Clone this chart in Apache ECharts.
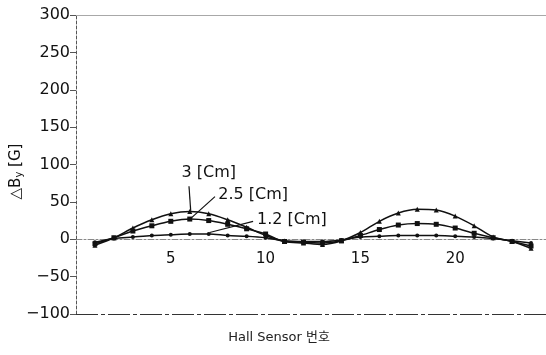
<!DOCTYPE html>
<html>
<head>
<meta charset="utf-8">
<script src="https://cdn.jsdelivr.net/npm/echarts@6/dist/echarts.min.js"></script>
<style>
    html, body { margin: 0; padding: 0; background: #fff; }
    #chart { width: 546px; height: 355px; }
</style>
</head>
<body>
<div id="chart"></div>
<script>
// Hall sensor index 1..24
const sensors = [1, 2, 3, 4, 5, 6, 7, 8, 9, 10, 11, 12, 13, 14, 15, 16, 17, 18, 19, 20, 21, 22, 23, 24]
// delta By [G] at each gap
const gap30 = [-8, 2, 15, 26, 34, 37, 34, 26, 16, 5, -3, -5, -7, -2, 9, 24, 35, 40, 39, 31, 18, 3, -3, -12]
const gap25 = [-6, 2, 11, 18, 24, 27, 25, 20, 14, 7, -3, -4, -5, -2, 5, 13, 19, 21, 20, 15, 8, 2, -3, -9]
const gap12 = [-4, 1, 3, 5, 6, 7, 7, 5, 4, 2, -2, -3, -3, -1, 3, 4, 5, 5, 5, 4, 3, 1, -2, -5]
const xTicks = [5, 10, 15, 20]
const yTicks = [-100, -50, 0, 50, 100, 150, 200, 250, 300]

const font = 'DejaVu Sans, Noto Sans CJK KR, sans-serif'
const chart = echarts.init(document.getElementById('chart'))

const gridTop = 15
const gridHeight = 299
const yMin = yTicks[0]
const yMax = yTicks[yTicks.length - 1]
// x axis sits on the zero line
const zeroOffset = -gridHeight * (0 - yMin) / (yMax - yMin)

function pairs (ys) {
    return sensors.map((x, i) => [x, ys[i]])
}

function line (name, ys, symbol, size) {
    return {
        name: name,
        type: 'line',
        data: pairs(ys),
        smooth: 0.3,
        symbol: symbol,
        symbolSize: size,
        itemStyle: { color: '#111' },
        lineStyle: { color: '#111', width: 1.5 },
        z: 3
    }
}

const series = [
    line('3 [Cm]', gap30, 'triangle', 5),
    line('2.5 [Cm]', gap25, 'rect', 5),
    line('1.2 [Cm]', gap12, 'circle', 4)
]
// frame lines at top (300) and bottom (-100)
series[0].markLine = {
    silent: true,
    symbol: 'none',
    label: { show: false },
    data: [
        { yAxis: yMax, lineStyle: { color: '#a8a8a8', type: 'solid', width: 1.2 } },
        { yAxis: yMin, lineStyle: { color: '#333', type: [22, 3, 4, 3], width: 1 } }
    ]
}

chart.setOption({
    animation: false,
    grid: { left: 76, top: gridTop, height: gridHeight, width: 474, outerBoundsMode: 'none', containLabel: false },
    xAxis: {
        type: 'value',
        min: 0,
        max: 25,
        interval: 5,
        offset: zeroOffset,
        axisLine: { onZero: false, lineStyle: { color: '#888', type: [6, 2, 2, 2], width: 1 } },
        axisTick: { show: false },
        splitLine: { show: false },
        axisLabel: {
            margin: 12,
            color: '#111',
            fontFamily: font,
            fontSize: 15,
            formatter: v => (xTicks.indexOf(v) >= 0 ? String(v) : '')
        }
    },
    yAxis: {
        type: 'value',
        min: yMin,
        max: yMax,
        interval: 50,
        name: '\u25B3B{sub|y} [G]',
        nameLocation: 'middle',
        nameRotate: 90,
        nameGap: 52,
        nameMoveOverlap: false,
        nameTextStyle: {
            color: '#111',
            fontFamily: font,
            fontSize: 15,
            padding: [0, 14, 0, 0],
            rich: { sub: { fontSize: 10, fontFamily: font, verticalAlign: 'bottom', padding: [6, 0, 0, 0] } }
        },
        axisLine: { show: true, lineStyle: { color: '#555', type: [3, 2], width: 1 } },
        axisTick: { show: true, length: 6, lineStyle: { color: '#555' } },
        splitLine: { show: false },
        axisLabel: {
            margin: 6,
            color: '#111',
            fontFamily: font,
            fontSize: 16,
            formatter: v => (v < 0 ? '\u2212' + Math.abs(v) : String(v))
        }
    },
    series: series
})

// annotations anchored in data space
const notes = [
    { text: '3 [Cm]', at: [7.0, 89], from: [5.96, 71], to: [6.05, 38], align: 'center' },
    { text: '2.5 [Cm]', at: [7.5, 59], from: [7.33, 57], to: [6.1, 29], align: 'left' },
    { text: '1.2 [Cm]', at: [9.55, 26], from: [9.34, 24], to: [7.05, 9], align: 'left' }
]
const graphic = []
notes.forEach(n => {
    const p = chart.convertToPixel({ gridIndex: 0 }, n.at)
    const a = chart.convertToPixel({ gridIndex: 0 }, n.from)
    const b = chart.convertToPixel({ gridIndex: 0 }, n.to)
    graphic.push({
        type: 'text',
        x: p[0],
        y: p[1],
        style: { text: n.text, fill: '#111', font: '16px ' + font, textAlign: n.align, textVerticalAlign: 'middle' }
    })
    graphic.push({
        type: 'line',
        shape: { x1: a[0], y1: a[1], x2: b[0], y2: b[1] },
        style: { stroke: '#111', lineWidth: 1.2 }
    })
})
graphic.push({
    type: 'text',
    x: 279,
    y: 338,
    style: { text: 'Hall Sensor 번호', fill: '#222', font: '13px ' + font, textAlign: 'center', textVerticalAlign: 'middle' }
})
chart.setOption({ graphic: graphic })
</script>
</body>
</html>
